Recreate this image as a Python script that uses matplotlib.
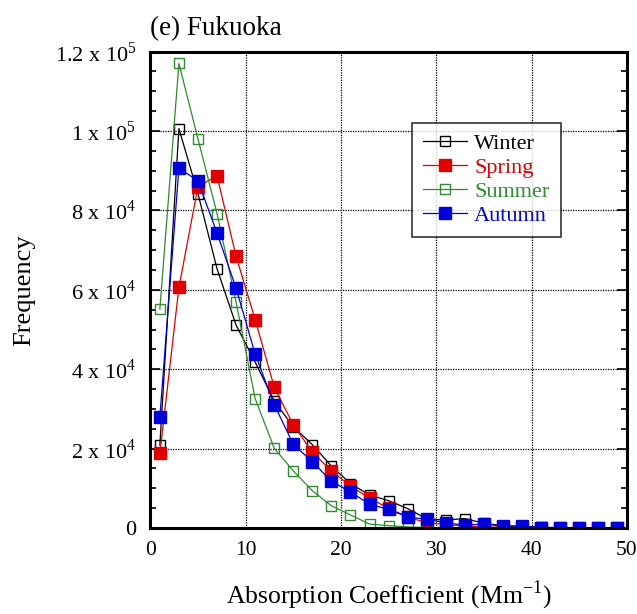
import numpy as np
import matplotlib
matplotlib.use("Agg")
import matplotlib.pyplot as plt
from matplotlib.ticker import FixedLocator, MultipleLocator

plt.rcParams['font.family'] = ['Liberation Serif', 'DejaVu Serif']
plt.rcParams['mathtext.fontset'] = 'custom'
plt.rcParams['mathtext.rm'] = 'Liberation Serif'

# bin centres (Mm^-1)
absorp = np.arange(1, 50, 2)

# frequency per season
winter = [20900, 100600, 84200, 65300, 51100, 41800, 32000, 25500, 21000, 15600,
          11200, 8300, 6900, 4900, 2300, 2000, 2400, 1200, 600, 400,
          200, 100, 100, 50, 50]
spring = [18800, 60600, 86000, 88700, 68400, 52500, 35500, 26000, 19100, 14400,
          10600, 7500, 5000, 2800, 1300, 900, 500, 300, 200, 100,
          50, 50, 0, 0, 0]
summer = [55100, 117000, 98000, 79200, 56900, 32600, 20100, 14400, 9400, 5600,
          3300, 1000, 600, 300, 100, 50, 0, 0, 0, 0,
          0, 0, 0, 0, 0]
autumn = [28000, 90700, 87400, 74300, 60400, 43800, 31100, 21100, 16700, 11800,
          9100, 6000, 4700, 2800, 2200, 1300, 750, 1000, 500, 500,
          100, 50, 0, 0, 0]

seasons = ["Winter", "Spring", "Summer", "Autumn"]
series = [winter, spring, summer, autumn]
colors = ["black", "#e00000", "#2e8b2e", "#0000d8"]
filled = [False, True, False, True]

ytick_vals = [0, 2e4, 4e4, 6e4, 8e4, 1e5, 1.2e5]
ytick_labels = ["0", r"2 x 10$^{4}$", r"4 x 10$^{4}$", r"6 x 10$^{4}$",
                r"8 x 10$^{4}$", r"1 x 10$^{5}$", r"1.2 x 10$^{5}$"]
xtick_vals = [0, 10, 20, 30, 40, 50]

fig = plt.figure(figsize=(6.37, 6.14), dpi=100)
ax = fig.add_axes([0.236, 0.140, 0.748, 0.776])

for name, vals, col, fill in zip(seasons, series, colors, filled):
    ax.plot(absorp, vals, color=col, lw=0.9, marker='s',
            ms=8 if fill else 7.5,
            mfc=col if fill else 'none', mec=col, mew=1.0, label=name)

ax.set_xlim(0, 50)
ax.set_ylim(0, 1.2e5)
ax.xaxis.set_major_locator(FixedLocator(xtick_vals))
ax.set_yticks(ytick_vals)
ax.set_yticklabels(ytick_labels)
ax.yaxis.set_minor_locator(MultipleLocator(5000))
ax.tick_params(axis='x', length=0, pad=9, labelsize=15.5)
ax.tick_params(axis='y', which='both', direction='in', left=True, right=True,
               labelsize=16, pad=10)
ax.tick_params(axis='y', which='major', length=7, width=1.2)
ax.tick_params(axis='y', which='minor', length=4, width=1.2)
ax.grid(True, color='black', linestyle=(0, (1, 1)), linewidth=0.9)
for sp in ax.spines.values():
    sp.set_linewidth(2.2)

ax.set_xlabel(r"Absorption Coefficient (Mm$^{\mathrm{-1}}$)", fontsize=18.5, labelpad=14)
ax.set_ylabel("Frequency", fontsize=19, labelpad=14)
ax.set_title("(e) Fukuoka", fontsize=19.5, loc='left', pad=12)

leg = ax.legend(loc='upper left', bbox_to_anchor=(0.549, 0.851), fontsize=16,
                frameon=True, fancybox=False, edgecolor='black',
                handlelength=2.0, handletextpad=0.3, borderpad=0.5,
                labelspacing=0.15, borderaxespad=0)
leg.get_frame().set_linewidth(1.2)
for txt, col in zip(leg.get_texts(), colors):
    txt.set_color(col)

fig.savefig("out.png", dpi=100)
